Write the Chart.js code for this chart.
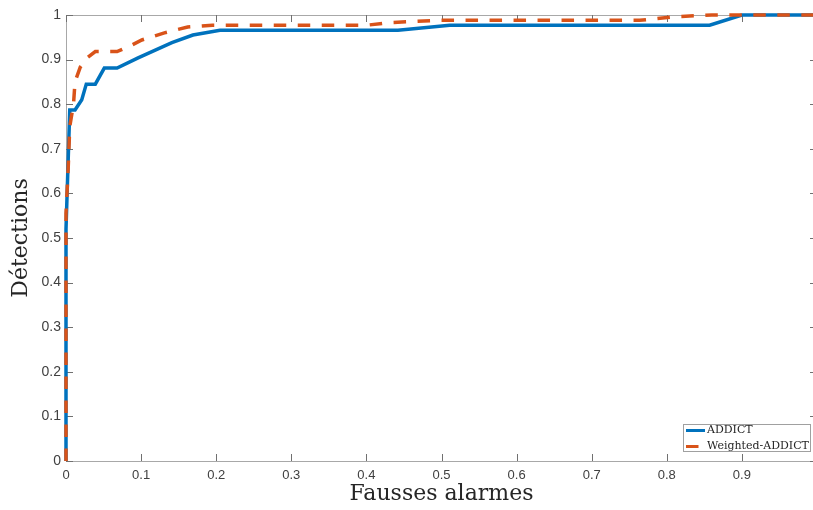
<!DOCTYPE html>
<html>
<head>
<meta charset="utf-8">
<script src="https://cdn.jsdelivr.net/npm/chart.js@4/dist/chart.umd.min.js"></script>
<style>
  html, body { margin: 0; padding: 0; background: #fff; overflow: hidden; }
  #wrap { width: 813px; height: 510px; overflow: hidden; position: relative; }
  canvas { display: block; }
</style>
</head>
<body>
<div id="wrap"><canvas id="roc" width="821" height="510"></canvas></div>
<script>
// Data
const addictFA  = [0, 0, 0.005, 0.012, 0.021, 0.027, 0.039, 0.051, 0.068, 0.096, 0.141, 0.169, 0.205, 0.442, 0.511, 0.857, 0.90, 1.0];
const addictDet = [0, 0.52, 0.787, 0.787, 0.81, 0.845, 0.845, 0.881, 0.881, 0.904, 0.938, 0.955, 0.966, 0.966, 0.977, 0.977, 1.0, 1.0];

const weightedFA  = [0, 0, 0.003, 0.005, 0.01, 0.012, 0.019, 0.028, 0.039, 0.068, 0.088, 0.101, 0.131, 0.162, 0.195, 0.40, 0.43, 0.50, 0.764, 0.81, 0.86, 1.0];
const weightedDet = [0, 0.555, 0.66, 0.75, 0.80, 0.85, 0.883, 0.904, 0.918, 0.918, 0.933, 0.944, 0.96, 0.973, 0.977, 0.977, 0.983, 0.988, 0.988, 0.996, 1.0, 1.0];

const seriesNames = ['ADDICT', 'Weighted-ADDICT'];

const xTicks = [0, 0.1, 0.2, 0.3, 0.4, 0.5, 0.6, 0.7, 0.8, 0.9];
const xTickLabels = ['0', '0.1', '0.2', '0.3', '0.4', '0.5', '0.6', '0.7', '0.8', '0.9'];
const yTicks = [0, 0.1, 0.2, 0.3, 0.4, 0.5, 0.6, 0.7, 0.8, 0.9, 1];
const yTickLabels = ['0', '0.1', '0.2', '0.3', '0.4', '0.5', '0.6', '0.7', '0.8', '0.9', '1'];

const blue = '#0072BD';
const orange = '#D95319';

function toPoints(xs, ys) {
    return xs.map((x, i) => ({ x: x, y: ys[i] }));
}

// MATLAB style box with inward ticks
const boxPlugin = {
    id: 'box',
    beforeDatasetsDraw(chart) {
        const { ctx, chartArea: a, scales } = chart;
        const len = 7;
        ctx.save();
        ctx.lineWidth = 1;
        ctx.strokeStyle = '#a8a8a8';
        ctx.strokeRect(Math.round(a.left) + 0.5, Math.round(a.top) + 0.5,
            Math.round(a.right - a.left), Math.round(a.bottom - a.top));
        ctx.strokeStyle = '#707070';
        ctx.beginPath();
        xTicks.forEach(v => {
            const px = Math.round(scales.x.getPixelForValue(v)) + 0.5;
            ctx.moveTo(px, a.bottom); ctx.lineTo(px, a.bottom - len);
            ctx.moveTo(px, a.top); ctx.lineTo(px, a.top + len);
        });
        yTicks.forEach(v => {
            const py = Math.round(scales.y.getPixelForValue(v)) + 0.5;
            ctx.moveTo(a.left, py); ctx.lineTo(a.left + len, py);
            ctx.moveTo(a.right, py); ctx.lineTo(a.right - len, py);
        });
        ctx.stroke();
        ctx.restore();
    }
};

// Legend box in the lower right corner of the axes
const legendPlugin = {
    id: 'boxLegend',
    afterDraw(chart) {
        const { ctx } = chart;
        const x0 = 683, y0 = 424, w = 127, h = 27;
        ctx.save();
        ctx.fillStyle = '#fff';
        ctx.fillRect(x0, y0, w, h);
        ctx.strokeStyle = '#a0a0a0';
        ctx.lineWidth = 1;
        ctx.strokeRect(x0 + 0.5, y0 + 0.5, w, h);
        ctx.font = '11px "DejaVu Serif"';
        ctx.textBaseline = 'middle';
        ctx.fillStyle = '#262626';
        chart.data.datasets.forEach((ds, i) => {
            const yy = y0 + 6.5 + i * 16;
            ctx.beginPath();
            ctx.strokeStyle = ds.borderColor;
            ctx.lineWidth = 3;
            ctx.lineCap = 'butt';
            ctx.setLineDash(ds.borderDash || []);
            ctx.moveTo(x0 + 3, yy);
            ctx.lineTo(x0 + 22, yy);
            ctx.stroke();
            ctx.setLineDash([]);
            ctx.fillText(ds.label, x0 + 24, yy);
        });
        ctx.restore();
    }
};

const ctx = document.getElementById('roc').getContext('2d');
new Chart(ctx, {
    type: 'line',
    data: {
        datasets: [{
            label: seriesNames[0],
            data: toPoints(addictFA, addictDet),
            borderColor: blue,
            borderWidth: 3.5,
            pointRadius: 0,
            tension: 0,
            fill: false,
            clip: false,
            order: 1
        }, {
            label: seriesNames[1],
            data: toPoints(weightedFA, weightedDet),
            borderColor: orange,
            borderWidth: 3.5,
            borderDash: [12.5, 11.5],
            borderCapStyle: 'butt',
            pointRadius: 0,
            tension: 0,
            fill: false,
            clip: false,
            order: 0
        }]
    },
    options: {
        responsive: false,
        animation: false,
        layout: { padding: { top: 15, right: 4, left: 0, bottom: 0 } },
        plugins: { legend: { display: false }, tooltip: { enabled: false } },
        scales: {
            x: {
                type: 'linear',
                min: 0,
                max: 1,
                afterBuildTicks: s => { s.ticks = xTicks.map(v => ({ value: v })); },
                afterFit: s => { s.height = 49; },
                grid: { display: false, drawTicks: false },
                border: { display: false },
                ticks: {
                    padding: 7,
                    color: '#404040',
                    font: { family: '"Liberation Sans", Arial, sans-serif', size: 13 },
                    maxRotation: 0,
                    autoSkip: false,
                    callback: (v, i) => xTickLabels[i]
                },
                title: {
                    display: true,
                    text: 'Fausses alarmes',
                    color: '#262626',
                    font: { family: '"DejaVu Serif"', size: 22 },
                    padding: { top: 0, bottom: 3 }
                }
            },
            y: {
                type: 'linear',
                min: 0,
                max: 1,
                afterBuildTicks: s => { s.ticks = yTicks.map(v => ({ value: v })); },
                afterFit: s => { s.width = 66; },
                grid: { display: false, drawTicks: false },
                border: { display: false },
                ticks: {
                    padding: 5,
                    color: '#404040',
                    font: { family: '"Liberation Sans", Arial, sans-serif', size: 14 },
                    autoSkip: false,
                    callback: (v, i) => yTickLabels[i]
                },
                title: {
                    display: true,
                    text: 'Détections',
                    color: '#262626',
                    font: { family: '"DejaVu Serif"', size: 22 },
                    padding: { top: 8, bottom: 0 }
                }
            }
        }
    },
    plugins: [boxPlugin, legendPlugin]
});
</script>
</body>
</html>
